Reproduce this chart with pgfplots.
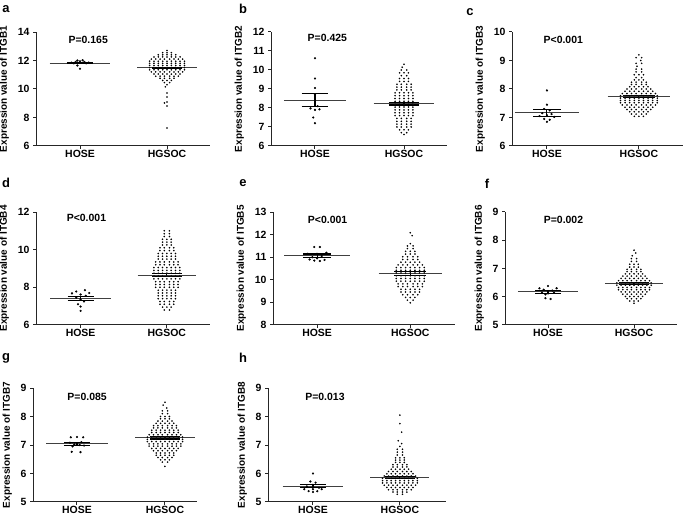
\documentclass[border=0pt]{standalone}
\usepackage{fontspec}
\setmainfont{Liberation Sans}
\usepackage{pgfplots}
\pgfplotsset{compat=1.18}

\pgfplotsset{
  panel/.style={
    scale only axis, anchor=south west,
    axis x line*=bottom, axis y line*=left,
    xtick={1,2}, xticklabels={HOSE,HGSOC},
    tick align=outside, major tick length=3bp,
    axis line style={line width=1bp, black!85},
    every tick/.style={line width=1bp, black!85},
    clip=false,
    tick label style={font=\bfseries\fontsize{10.5}{12}\selectfont},
    xticklabel style={inner sep=1.2bp},
    label style={font=\bfseries\fontsize{10}{12}\selectfont},
    /pgf/number format/assume math mode=true,
    ylabel shift=2bp,
  },
  hose/.style={only marks, mark=*, mark size=0.9pt, mark options={draw=none, fill=black}},
  hgs/.style={only marks, mark=*, mark size=0.6pt, mark options={draw=none, fill=black!55}},
}
\tikzset{pv/.style={font=\bfseries\fontsize{10.5}{12}\selectfont}}

% mean line + SEM bar (mean, low, high)
\newcommand\semH[3]{%
  \addplot[black!75, line width=0.9pt] coordinates {(0.65,#1) (1.35,#1)};
  \addplot[black, line width=1.1pt] coordinates {(1,#2) (1,#3)};
  \addplot[black, line width=1.1pt] coordinates {(0.85,#2) (1.15,#2)};
  \addplot[black, line width=1.1pt] coordinates {(0.85,#3) (1.15,#3)};
}
\newcommand\semG[3]{%
  \addplot[black!75, line width=0.9pt] coordinates {(1.66,#1) (2.34,#1)};
  \addplot[black, line width=1.1pt] coordinates {(2,#2) (2,#3)};
  \addplot[black, line width=1.1pt] coordinates {(1.83,#2) (2.17,#2)};
  \addplot[black, line width=1.1pt] coordinates {(1.83,#3) (2.17,#3)};
}

\begin{document}
\begin{tikzpicture}
\useasboundingbox (0,0) rectangle (685bp,517bp);

% ---------- a ----------
\begin{axis}[panel, at={(36bp,371bp)}, width=174bp, height=114bp,
  xmin=0.494, xmax=2.494, ymin=6, ymax=14, ytick={6,8,10,12,14},
  ylabel={Expression value of ITGB1}]
\addplot[hgs] coordinates {
(2,12.7)
(1.95,12.55)(2,12.55)(2.05,12.55)
(1.9,12.4)(1.95,12.4)(2,12.4)(2.05,12.4)(2.1,12.4)
(1.85,12.25)(1.9,12.25)(1.95,12.25)(2,12.25)(2.05,12.25)(2.1,12.25)(2.15,12.25)
(1.82,12.1)(1.87,12.1)(1.92,12.1)(1.97,12.1)(2.03,12.1)(2.08,12.1)(2.13,12.1)(2.18,12.1)
(1.8,11.95)(1.85,11.95)(1.9,11.95)(1.95,11.95)(2,11.95)(2.05,11.95)(2.1,11.95)(2.15,11.95)(2.2,11.95)
(1.8,11.8)(1.85,11.8)(1.9,11.8)(1.95,11.8)(2,11.8)(2.05,11.8)(2.1,11.8)(2.15,11.8)(2.2,11.8)
(1.8,11.65)(1.85,11.65)(1.9,11.65)(1.95,11.65)(2,11.65)(2.05,11.65)(2.1,11.65)(2.15,11.65)(2.2,11.65)
(1.8,11.5)(1.85,11.5)(1.9,11.5)(1.95,11.5)(2,11.5)(2.05,11.5)(2.1,11.5)(2.15,11.5)(2.2,11.5)
(1.8,11.35)(1.85,11.35)(1.9,11.35)(1.95,11.35)(2,11.35)(2.05,11.35)(2.1,11.35)(2.15,11.35)(2.2,11.35)
(1.82,11.2)(1.87,11.2)(1.92,11.2)(1.97,11.2)(2.03,11.2)(2.08,11.2)(2.13,11.2)(2.18,11.2)
(1.85,11.05)(1.9,11.05)(1.95,11.05)(2,11.05)(2.05,11.05)(2.1,11.05)(2.15,11.05)
(1.87,10.9)(1.92,10.9)(1.97,10.9)(2.03,10.9)(2.08,10.9)(2.13,10.9)
(1.92,10.75)(1.97,10.75)(2.03,10.75)(2.08,10.75)
(1.95,10.6)(2,10.6)(2.05,10.6)
(1.97,10.45)(2.03,10.45)
(2,10.3)(1.98,10.15)
(2,9.72)(2,9.44)(2,9.09)(1.97,9.02)(2,8.81)(2,7.26)
};
\addplot[hose] coordinates {
(0.9,11.85)(0.95,11.9)(1,11.95)(1.05,11.9)(1.1,11.85)(0.93,11.8)
(1.07,11.8)(1,11.85)(0.97,12.0)(1.03,12.02)(0.97,11.65)(1.0,11.42)
};
\semH{11.8}{11.76}{11.86}
\semG{11.5}{11.46}{11.54}
\node[pv] at (rel axis cs:0.30,0.93) {P=0.165};
\end{axis}

% ---------- b ----------
\begin{axis}[panel, at={(271bp,371bp)}, width=176bp, height=114bp,
  xmin=0.506, xmax=2.483, ymin=6, ymax=12, ytick={6,...,12},
  ylabel={Expression value of ITGB2}]
\addplot[hgs] coordinates {
(2,10.3)(1.98,10.15)
(1.97,10.0)(2.03,10.0)
(1.95,9.85)(2,9.85)(2.05,9.85)
(1.97,9.7)(2.03,9.7)
(1.95,9.55)(2,9.55)(2.05,9.55)
(1.95,9.4)(2,9.4)(2.05,9.4)
(1.92,9.25)(1.97,9.25)(2.03,9.25)(2.08,9.25)
(1.92,9.1)(1.97,9.1)(2.03,9.1)(2.08,9.1)
(1.92,8.95)(1.97,8.95)(2.03,8.95)(2.08,8.95)
(1.9,8.8)(1.95,8.8)(2,8.8)(2.05,8.8)(2.1,8.8)
(1.9,8.65)(1.95,8.65)(2,8.65)(2.05,8.65)(2.1,8.65)
(1.9,8.5)(1.95,8.5)(2,8.5)(2.05,8.5)(2.1,8.5)
(1.9,8.35)(1.95,8.35)(2,8.35)(2.05,8.35)(2.1,8.35)
(1.9,8.2)(1.95,8.2)(2,8.2)(2.05,8.2)(2.1,8.2)
(1.9,8.05)(1.95,8.05)(2,8.05)(2.05,8.05)(2.1,8.05)
(1.9,7.9)(1.95,7.9)(2,7.9)(2.05,7.9)(2.1,7.9)
(1.9,7.75)(1.95,7.75)(2,7.75)(2.05,7.75)(2.1,7.75)
(1.9,7.6)(1.95,7.6)(2,7.6)(2.05,7.6)(2.1,7.6)
(1.92,7.45)(1.97,7.45)(2.03,7.45)(2.08,7.45)
(1.92,7.3)(1.97,7.3)(2.03,7.3)(2.08,7.3)
(1.92,7.15)(1.97,7.15)(2.03,7.15)(2.08,7.15)
(1.92,7.0)(1.97,7.0)(2.03,7.0)(2.08,7.0)
(1.95,6.85)(2,6.85)(2.05,6.85)
(1.97,6.7)(2.03,6.7)
(2,6.6)
};
\addplot[hose] coordinates {
(1,10.62)(1,9.55)(1,9.05)(1,8.72)(1.03,8.1)
(0.95,7.98)(1.05,7.93)(1,7.9)(0.98,7.5)(1,7.2)
};
\semH{8.42}{8.1}{8.78}
\semG{8.22}{8.16}{8.28}
\node[pv] at (rel axis cs:0.32,0.95) {P=0.425};
\end{axis}

% ---------- c ----------
\begin{axis}[panel, at={(512bp,371bp)}, width=171bp, height=114bp,
  xmin=0.62, xmax=2.48, ymin=6, ymax=10, ytick={6,...,10},
  ylabel={Expression value of ITGB3}]
\addplot[hgs] coordinates {
(2,9.2)
(1.97,9.1)(2.03,9.1)
(2.02,9.0)
(1.97,8.9)(2.03,8.9)
(1.98,8.8)
(1.97,8.7)(2.03,8.7)
(1.97,8.6)(2.03,8.6)
(1.95,8.5)(2,8.5)(2.05,8.5)
(1.97,8.4)(2.03,8.4)
(1.95,8.32)(2,8.32)(2.05,8.32)
(1.92,8.24)(1.97,8.24)(2.03,8.24)(2.08,8.24)
(1.92,8.16)(1.97,8.16)(2.03,8.16)(2.08,8.16)
(1.9,8.08)(1.95,8.08)(2,8.08)(2.05,8.08)(2.1,8.08)
(1.87,8.0)(1.92,8.0)(1.97,8.0)(2.03,8.0)(2.08,8.0)(2.13,8.0)
(1.85,7.92)(1.9,7.92)(1.95,7.92)(2,7.92)(2.05,7.92)(2.1,7.92)(2.15,7.92)
(1.82,7.84)(1.87,7.84)(1.92,7.84)(1.97,7.84)(2.03,7.84)(2.08,7.84)(2.13,7.84)(2.18,7.84)
(1.8,7.76)(1.85,7.76)(1.9,7.76)(1.95,7.76)(2,7.76)(2.05,7.76)(2.1,7.76)(2.15,7.76)(2.2,7.76)
(1.8,7.68)(1.85,7.68)(1.9,7.68)(1.95,7.68)(2,7.68)(2.05,7.68)(2.1,7.68)(2.15,7.68)(2.2,7.68)
(1.8,7.6)(1.85,7.6)(1.9,7.6)(1.95,7.6)(2,7.6)(2.05,7.6)(2.1,7.6)(2.15,7.6)(2.2,7.6)
(1.8,7.52)(1.85,7.52)(1.9,7.52)(1.95,7.52)(2,7.52)(2.05,7.52)(2.1,7.52)(2.15,7.52)(2.2,7.52)
(1.82,7.44)(1.87,7.44)(1.92,7.44)(1.97,7.44)(2.03,7.44)(2.08,7.44)(2.13,7.44)(2.18,7.44)
(1.85,7.36)(1.9,7.36)(1.95,7.36)(2,7.36)(2.05,7.36)(2.1,7.36)(2.15,7.36)
(1.87,7.28)(1.92,7.28)(1.97,7.28)(2.03,7.28)(2.08,7.28)(2.13,7.28)
(1.9,7.2)(1.95,7.2)(2,7.2)(2.05,7.2)(2.1,7.2)
(1.92,7.12)(1.97,7.12)(2.03,7.12)(2.08,7.12)
(1.95,7.04)(2,7.04)(2.05,7.04)
};
\addplot[hose] coordinates {
(1,7.95)(1,7.45)(0.97,7.3)(1.03,7.25)(0.95,7.15)(1.05,7.12)
(0.92,7.05)(1.0,7.08)(1.08,7.02)(0.97,6.95)(1.03,6.92)(1,6.85)
};
\semH{7.17}{7.05}{7.28}
\semG{7.73}{7.7}{7.77}
\node[pv] at (rel axis cs:0.30,0.93) {P<0.001};
\end{axis}

% ---------- d ----------
\begin{axis}[panel, at={(36bp,192bp)}, width=174bp, height=113bp,
  xmin=0.483, xmax=2.5, ymin=6, ymax=12, ytick={6,8,10,12},
  ylabel={Expression value of ITGB4}]
\addplot[hgs] coordinates {
(1.97,11.0)(2.03,11.0)
(1.97,10.85)(2.03,10.85)
(1.97,10.7)(2.03,10.7)
(1.95,10.55)(2,10.55)(2.05,10.55)
(1.95,10.4)(2,10.4)(2.05,10.4)
(1.95,10.25)(2,10.25)(2.05,10.25)
(1.92,10.1)(1.97,10.1)(2.03,10.1)(2.08,10.1)
(1.92,9.95)(1.97,9.95)(2.03,9.95)(2.08,9.95)
(1.9,9.8)(1.95,9.8)(2,9.8)(2.05,9.8)(2.1,9.8)
(1.9,9.65)(1.95,9.65)(2,9.65)(2.05,9.65)(2.1,9.65)
(1.9,9.5)(1.95,9.5)(2,9.5)(2.05,9.5)(2.1,9.5)
(1.87,9.35)(1.92,9.35)(1.97,9.35)(2.03,9.35)(2.08,9.35)(2.13,9.35)
(1.87,9.2)(1.92,9.2)(1.97,9.2)(2.03,9.2)(2.08,9.2)(2.13,9.2)
(1.85,9.05)(1.9,9.05)(1.95,9.05)(2,9.05)(2.05,9.05)(2.1,9.05)(2.15,9.05)
(1.85,8.9)(1.9,8.9)(1.95,8.9)(2,8.9)(2.05,8.9)(2.1,8.9)(2.15,8.9)
(1.85,8.75)(1.9,8.75)(1.95,8.75)(2,8.75)(2.05,8.75)(2.1,8.75)(2.15,8.75)
(1.85,8.6)(1.9,8.6)(1.95,8.6)(2,8.6)(2.05,8.6)(2.1,8.6)(2.15,8.6)
(1.85,8.45)(1.9,8.45)(1.95,8.45)(2,8.45)(2.05,8.45)(2.1,8.45)(2.15,8.45)
(1.87,8.3)(1.92,8.3)(1.97,8.3)(2.03,8.3)(2.08,8.3)(2.13,8.3)
(1.87,8.15)(1.92,8.15)(1.97,8.15)(2.03,8.15)(2.08,8.15)(2.13,8.15)
(1.87,8.0)(1.92,8.0)(1.97,8.0)(2.03,8.0)(2.08,8.0)(2.13,8.0)
(1.9,7.85)(1.95,7.85)(2,7.85)(2.05,7.85)(2.1,7.85)
(1.9,7.7)(1.95,7.7)(2,7.7)(2.05,7.7)(2.1,7.7)
(1.9,7.55)(1.95,7.55)(2,7.55)(2.05,7.55)(2.1,7.55)
(1.9,7.4)(1.95,7.4)(2,7.4)(2.05,7.4)(2.1,7.4)
(1.92,7.25)(1.97,7.25)(2.03,7.25)(2.08,7.25)
(1.92,7.1)(1.97,7.1)(2.03,7.1)(2.08,7.1)
(1.95,6.95)(2,6.95)(2.05,6.95)
(1.97,6.8)(2.03,6.8)
};
\addplot[hose] coordinates {
(1.05,7.85)(0.95,7.78)(1.1,7.7)(0.9,7.68)(1.0,7.62)(1.06,7.55)
(0.95,7.45)(1.0,7.35)(1.04,7.25)(0.97,7.1)(1.0,6.98)(1.0,6.75)
};
\semH{7.4}{7.28}{7.52}
\semG{8.65}{8.58}{8.72}
\node[pv] at (rel axis cs:0.29,0.95) {P<0.001};
\end{axis}

% ---------- e ----------
\begin{axis}[panel, at={(273bp,192bp)}, width=182bp, height=113bp,
  xmin=0.527, xmax=2.48, ymin=8, ymax=13, ytick={8,...,13},
  ylabel={Expression value of ITGB5}]
\addplot[hgs] coordinates {
(2,12.08)(2.02,11.95)(2,11.6)
(1.97,11.5)(2.03,11.5)
(1.97,11.38)(2.03,11.38)
(1.95,11.26)(2,11.26)(2.05,11.26)
(1.95,11.14)(2,11.14)(2.05,11.14)
(1.92,11.02)(1.97,11.02)(2.03,11.02)(2.08,11.02)
(1.92,10.9)(1.97,10.9)(2.03,10.9)(2.08,10.9)
(1.9,10.78)(1.95,10.78)(2,10.78)(2.05,10.78)(2.1,10.78)
(1.87,10.66)(1.92,10.66)(1.97,10.66)(2.03,10.66)(2.08,10.66)(2.13,10.66)
(1.85,10.54)(1.9,10.54)(1.95,10.54)(2,10.54)(2.05,10.54)(2.1,10.54)(2.15,10.54)
(1.85,10.42)(1.9,10.42)(1.95,10.42)(2,10.42)(2.05,10.42)(2.1,10.42)(2.15,10.42)
(1.85,10.3)(1.9,10.3)(1.95,10.3)(2,10.3)(2.05,10.3)(2.1,10.3)(2.15,10.3)
(1.85,10.18)(1.9,10.18)(1.95,10.18)(2,10.18)(2.05,10.18)(2.1,10.18)(2.15,10.18)
(1.85,10.06)(1.9,10.06)(1.95,10.06)(2,10.06)(2.05,10.06)(2.1,10.06)(2.15,10.06)
(1.85,9.94)(1.9,9.94)(1.95,9.94)(2,9.94)(2.05,9.94)(2.1,9.94)(2.15,9.94)
(1.87,9.82)(1.92,9.82)(1.97,9.82)(2.03,9.82)(2.08,9.82)(2.13,9.82)
(1.87,9.7)(1.92,9.7)(1.97,9.7)(2.03,9.7)(2.08,9.7)(2.13,9.7)
(1.9,9.58)(1.95,9.58)(2,9.58)(2.05,9.58)(2.1,9.58)
(1.9,9.46)(1.95,9.46)(2,9.46)(2.05,9.46)(2.1,9.46)
(1.92,9.34)(1.97,9.34)(2.03,9.34)(2.08,9.34)
(1.95,9.22)(2,9.22)(2.05,9.22)
(1.97,9.1)(2.03,9.1)
(2,8.98)
};
\addplot[hose] coordinates {
(0.97,11.45)(1.03,11.45)(1.1,11.2)(0.9,11.15)(1,11.15)(1.05,11.05)
(0.95,11.0)(1.0,10.95)(0.92,10.9)(1.08,10.88)(0.97,10.85)(1.03,10.83)
};
\semH{11.07}{11.0}{11.14}
\semG{10.28}{10.21}{10.35}
\node[pv] at (rel axis cs:0.30,0.93) {P<0.001};
\end{axis}

% ---------- f ----------
\begin{axis}[panel, at={(505bp,192bp)}, width=172bp, height=113bp,
  xmin=0.5, xmax=2.5, ymin=5, ymax=9, ytick={5,...,9},
  ylabel={Expression value of ITGB6}]
\addplot[hgs] coordinates {
(2,7.65)(2.02,7.55)(1.98,7.45)
(1.97,7.35)(2.03,7.35)
(1.97,7.25)(2.03,7.25)
(1.95,7.15)(2,7.15)(2.05,7.15)
(1.95,7.05)(2,7.05)(2.05,7.05)
(1.92,6.97)(1.97,6.97)(2.03,6.97)(2.08,6.97)
(1.92,6.89)(1.97,6.89)(2.03,6.89)(2.08,6.89)
(1.9,6.81)(1.95,6.81)(2,6.81)(2.05,6.81)(2.1,6.81)
(1.87,6.73)(1.92,6.73)(1.97,6.73)(2.03,6.73)(2.08,6.73)(2.13,6.73)
(1.85,6.65)(1.9,6.65)(1.95,6.65)(2,6.65)(2.05,6.65)(2.1,6.65)(2.15,6.65)
(1.82,6.57)(1.87,6.57)(1.92,6.57)(1.97,6.57)(2.03,6.57)(2.08,6.57)(2.13,6.57)(2.18,6.57)
(1.8,6.49)(1.85,6.49)(1.9,6.49)(1.95,6.49)(2,6.49)(2.05,6.49)(2.1,6.49)(2.15,6.49)(2.2,6.49)
(1.8,6.41)(1.85,6.41)(1.9,6.41)(1.95,6.41)(2,6.41)(2.05,6.41)(2.1,6.41)(2.15,6.41)(2.2,6.41)
(1.82,6.33)(1.87,6.33)(1.92,6.33)(1.97,6.33)(2.03,6.33)(2.08,6.33)(2.13,6.33)(2.18,6.33)
(1.82,6.25)(1.87,6.25)(1.92,6.25)(1.97,6.25)(2.03,6.25)(2.08,6.25)(2.13,6.25)(2.18,6.25)
(1.85,6.17)(1.9,6.17)(1.95,6.17)(2,6.17)(2.05,6.17)(2.1,6.17)(2.15,6.17)
(1.87,6.09)(1.92,6.09)(1.97,6.09)(2.03,6.09)(2.08,6.09)(2.13,6.09)
(1.9,6.01)(1.95,6.01)(2,6.01)(2.05,6.01)(2.1,6.01)
(1.92,5.93)(1.97,5.93)(2.03,5.93)(2.08,5.93)
(1.95,5.85)(2,5.85)(2.05,5.85)
(2,5.77)
};
\addplot[hose] coordinates {
(1,6.38)(0.9,6.3)(1.1,6.3)(0.95,6.25)(1.05,6.22)(1,6.2)
(0.93,6.15)(1.07,6.15)(1,6.12)(0.97,6.08)(0.97,5.95)(1.03,5.92)
};
\semH{6.17}{6.12}{6.22}
\semG{6.47}{6.43}{6.51}
\node[pv] at (rel axis cs:0.34,0.93) {P=0.002};
\end{axis}

% ---------- g ----------
\begin{axis}[panel, at={(33bp,15bp)}, width=164bp, height=114bp,
  xmin=0.5, xmax=2.364, ymin=5, ymax=9, ytick={5,...,9},
  ylabel={Expression value of ITGB7}]
\addplot[hgs] coordinates {
(2,8.5)(1.98,8.4)(2.02,8.3)
(1.97,8.2)(2.03,8.2)
(1.97,8.1)(2.03,8.1)
(1.95,8.0)(2,8.0)(2.05,8.0)
(1.95,7.92)(2,7.92)(2.05,7.92)
(1.92,7.84)(1.97,7.84)(2.03,7.84)(2.08,7.84)
(1.9,7.76)(1.95,7.76)(2,7.76)(2.05,7.76)(2.1,7.76)
(1.87,7.68)(1.92,7.68)(1.97,7.68)(2.03,7.68)(2.08,7.68)(2.13,7.68)
(1.87,7.6)(1.92,7.6)(1.97,7.6)(2.03,7.6)(2.08,7.6)(2.13,7.6)
(1.85,7.52)(1.9,7.52)(1.95,7.52)(2,7.52)(2.05,7.52)(2.1,7.52)(2.15,7.52)
(1.85,7.44)(1.9,7.44)(1.95,7.44)(2,7.44)(2.05,7.44)(2.1,7.44)(2.15,7.44)
(1.82,7.36)(1.87,7.36)(1.92,7.36)(1.97,7.36)(2.03,7.36)(2.08,7.36)(2.13,7.36)(2.18,7.36)
(1.8,7.28)(1.85,7.28)(1.9,7.28)(1.95,7.28)(2,7.28)(2.05,7.28)(2.1,7.28)(2.15,7.28)(2.2,7.28)
(1.8,7.2)(1.85,7.2)(1.9,7.2)(1.95,7.2)(2,7.2)(2.05,7.2)(2.1,7.2)(2.15,7.2)(2.2,7.2)
(1.8,7.12)(1.85,7.12)(1.9,7.12)(1.95,7.12)(2,7.12)(2.05,7.12)(2.1,7.12)(2.15,7.12)(2.2,7.12)
(1.82,7.04)(1.87,7.04)(1.92,7.04)(1.97,7.04)(2.03,7.04)(2.08,7.04)(2.13,7.04)(2.18,7.04)
(1.82,6.96)(1.87,6.96)(1.92,6.96)(1.97,6.96)(2.03,6.96)(2.08,6.96)(2.13,6.96)(2.18,6.96)
(1.85,6.88)(1.9,6.88)(1.95,6.88)(2,6.88)(2.05,6.88)(2.1,6.88)(2.15,6.88)
(1.87,6.8)(1.92,6.8)(1.97,6.8)(2.03,6.8)(2.08,6.8)(2.13,6.8)
(1.9,6.72)(1.95,6.72)(2,6.72)(2.05,6.72)(2.1,6.72)
(1.9,6.64)(1.95,6.64)(2,6.64)(2.05,6.64)(2.1,6.64)
(1.92,6.56)(1.97,6.56)(2.03,6.56)(2.08,6.56)
(1.95,6.48)(2,6.48)(2.05,6.48)
(1.97,6.4)(2.03,6.4)
(2,6.25)
};
\addplot[hose] coordinates {
(0.93,7.27)(1,7.28)(1.07,7.27)(0.92,7.08)(1.05,7.1)(0.97,7.02)
(1.03,7.0)(1.08,6.98)(0.95,6.95)(0.94,6.76)(1.04,6.75)
};
\semH{7.04}{6.97}{7.1}
\semG{7.25}{7.21}{7.29}
\node[pv] at (rel axis cs:0.33,0.92) {P=0.085};
\end{axis}

% ---------- h ----------
\begin{axis}[panel, at={(268bp,15bp)}, width=178bp, height=114bp,
  xmin=0.483, xmax=2.53, ymin=5, ymax=9, ytick={5,...,9},
  ylabel={Expression value of ITGB8}]
\addplot[hgs] coordinates {
(2,8.05)(2,7.75)(2.02,7.45)(1.98,7.15)(2.02,7.05)(2,6.95)
(1.97,6.85)(2.03,6.85)
(1.97,6.75)(2.03,6.75)
(1.97,6.65)(2.03,6.65)
(1.95,6.55)(2,6.55)(2.05,6.55)
(1.95,6.47)(2,6.47)(2.05,6.47)
(1.95,6.39)(2,6.39)(2.05,6.39)
(1.92,6.31)(1.97,6.31)(2.03,6.31)(2.08,6.31)
(1.92,6.23)(1.97,6.23)(2.03,6.23)(2.08,6.23)
(1.9,6.15)(1.95,6.15)(2,6.15)(2.05,6.15)(2.1,6.15)
(1.87,6.07)(1.92,6.07)(1.97,6.07)(2.03,6.07)(2.08,6.07)(2.13,6.07)
(1.85,5.99)(1.9,5.99)(1.95,5.99)(2,5.99)(2.05,5.99)(2.1,5.99)(2.15,5.99)
(1.82,5.91)(1.87,5.91)(1.92,5.91)(1.97,5.91)(2.03,5.91)(2.08,5.91)(2.13,5.91)(2.18,5.91)
(1.8,5.83)(1.85,5.83)(1.9,5.83)(1.95,5.83)(2,5.83)(2.05,5.83)(2.1,5.83)(2.15,5.83)(2.2,5.83)
(1.8,5.75)(1.85,5.75)(1.9,5.75)(1.95,5.75)(2,5.75)(2.05,5.75)(2.1,5.75)(2.15,5.75)(2.2,5.75)
(1.8,5.67)(1.85,5.67)(1.9,5.67)(1.95,5.67)(2,5.67)(2.05,5.67)(2.1,5.67)(2.15,5.67)(2.2,5.67)
(1.82,5.59)(1.87,5.59)(1.92,5.59)(1.97,5.59)(2.03,5.59)(2.08,5.59)(2.13,5.59)(2.18,5.59)
(1.85,5.51)(1.9,5.51)(1.95,5.51)(2,5.51)(2.05,5.51)(2.1,5.51)(2.15,5.51)
(1.87,5.43)(1.92,5.43)(1.97,5.43)(2.03,5.43)(2.08,5.43)(2.13,5.43)
(1.92,5.35)(1.97,5.35)(2.03,5.35)(2.08,5.35)
(1.97,5.27)(2.03,5.27)
};
\addplot[hose] coordinates {
(1,6.0)(0.97,5.72)(1.03,5.68)(1,5.6)(0.93,5.55)(1.07,5.5)
(0.9,5.45)(1.1,5.45)(1,5.45)(0.95,5.38)(1.05,5.38)(1,5.35)
};
\semH{5.55}{5.5}{5.62}
\semG{5.87}{5.83}{5.91}
\node[pv] at (rel axis cs:0.32,0.92) {P=0.013};
\end{axis}

% panel letters
\begin{scope}[every node/.style={font=\bfseries\fontsize{13}{14}\selectfont}]
\node at (6bp,508bp) {a};
\node at (243bp,508bp) {b};
\node at (470bp,505bp) {c};
\node at (6bp,334bp) {d};
\node at (243bp,334bp) {e};
\node at (487bp,333bp) {f};
\node at (6bp,159bp) {g};
\node at (243bp,159bp) {h};
\end{scope}
\end{tikzpicture}
\end{document}
